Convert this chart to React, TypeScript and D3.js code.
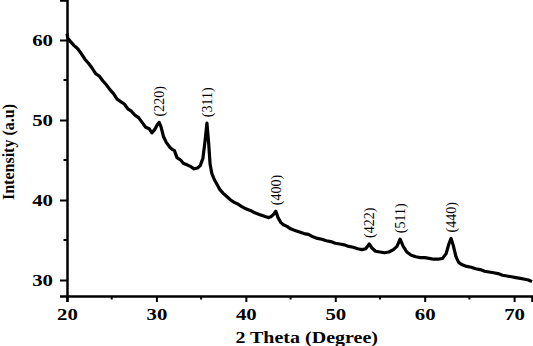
import * as d3 from "d3"
import { useEffect, useRef } from "react"

const twoTheta = [
  20.0, 20.1, 20.4, 20.8, 21.2, 21.6, 22.0, 22.4, 22.8, 23.2, 23.6, 24.0, 24.4, 24.8, 25.2, 25.6,
  26.0, 26.4, 26.8, 27.2, 27.6, 28.0, 28.4, 28.8, 29.2, 29.5, 29.8, 30.1, 30.3, 30.5, 30.8, 31.1,
  31.5, 31.8, 32.0, 32.3, 32.7, 33.0, 33.4, 33.8, 34.2, 34.6, 34.9, 35.2, 35.45, 35.65, 35.85, 36.0,
  36.2, 36.5, 36.8, 37.1, 37.5, 37.9, 38.3, 38.7, 39.1, 39.5, 40.0, 40.5, 41.0, 41.5, 42.0, 42.5,
  42.8, 43.1, 43.35, 43.6, 43.9, 44.2, 44.6, 45.0, 45.5, 46.0, 46.5, 47.0, 47.5, 48.0, 48.5, 49.0,
  49.5, 50.0, 50.5, 51.0, 51.5, 52.0, 52.5, 53.0, 53.4, 53.8, 54.1, 54.5, 55.0, 55.5, 56.0, 56.5,
  56.9, 57.25, 57.6, 58.0, 58.5, 59.0, 59.5, 60.0, 60.5, 61.0, 61.5, 62.0, 62.4, 62.7, 62.95, 63.2,
  63.5, 63.8, 64.2, 64.7, 65.2, 65.7, 66.2, 66.7, 67.2, 67.7, 68.2, 68.7, 69.2, 69.7, 70.2, 70.7,
  71.2, 71.6, 72.0,
]

const intensity = [
  60.8, 60.2, 59.8, 59.3, 58.9, 58.3, 57.6, 57.1, 56.5, 55.8, 55.5, 54.9, 54.4, 53.8, 53.3, 52.6,
  52.3, 52.0, 51.4, 51.1, 50.6, 50.3, 49.7, 49.1, 48.9, 48.4, 48.8, 49.4, 49.7, 49.2, 47.9, 47.2,
  46.6, 46.3, 46.2, 45.3, 45.0, 44.6, 44.4, 44.2, 43.9, 44.0, 44.3, 45.2, 47.5, 49.6, 47.0, 44.5,
  43.3, 42.5, 41.9, 41.3, 40.8, 40.4, 40.0, 39.7, 39.5, 39.2, 38.9, 38.7, 38.4, 38.2, 38.0, 37.8,
  37.9, 38.2, 38.6, 37.8, 37.2, 36.9, 36.7, 36.4, 36.2, 36.0, 35.8, 35.7, 35.4, 35.2, 35.1, 34.9,
  34.8, 34.6, 34.5, 34.4, 34.2, 34.1, 33.9, 33.8, 33.9, 34.5, 34.0, 33.6, 33.5, 33.4, 33.5, 33.8,
  34.2, 35.1, 34.2, 33.5, 33.1, 32.9, 32.8, 32.8, 32.7, 32.6, 32.6, 32.7, 33.3, 34.5, 35.2, 34.3,
  32.9, 32.2, 31.9, 31.7, 31.6, 31.4, 31.3, 31.1, 31.0, 30.9, 30.8, 30.6, 30.5, 30.4, 30.3, 30.2,
  30.1, 30.0, 29.8,
]

const peakLabels = ["(220)", "(311)", "(400)", "(422)", "(511)", "(440)"]
const peakTheta = [30.3, 35.65, 43.35, 53.8, 57.25, 62.95]
const peakIntensity = [49.7, 49.6, 38.6, 34.5, 35.1, 35.2]

const xTicks = [20, 30, 40, 50, 60, 70]
const yTicks = [30, 40, 50, 60]

const width = 533
const height = 346
const margin = { top: 0, right: 1, bottom: 50, left: 67 }
const font = "'Liberation Serif', 'Times New Roman', serif"
const stretch = 1.3

const App = () => {
  const ref = useRef<SVGSVGElement>(null)

  useEffect(() => {
    const innerWidth = width - margin.left - margin.right
    const innerHeight = height - margin.top - margin.bottom

    const svg = d3.select(ref.current)
    svg.selectAll("*").remove()

    const g = svg
      .append("g")
      .attr("transform", `translate(${margin.left},${margin.top})`)

    const x = d3.scaleLinear().domain([20, 72]).range([0, innerWidth])
    const y = d3.scaleLinear().domain([28, 65]).range([innerHeight, 0])

    // minor ticks
    const xMinor = d3.range(25, 72, 10)
    const yMinor = d3.range(35, 65, 10)

    const xAxis = g
      .append("g")
      .attr("transform", `translate(0,${innerHeight})`)
      .call(d3.axisBottom(x).tickValues(xTicks).tickSize(6).tickPadding(7).tickFormat(d3.format("d")))
    xAxis.select(".domain").attr("stroke-width", 2.5)
    xAxis.selectAll(".tick line").attr("stroke-width", 2)
    xAxis
      .selectAll("text")
      .attr("transform", `scale(${stretch},1)`)
      .style("font-family", font)
      .style("font-size", "16px")
      .style("font-weight", "bold")
    g.append("g")
      .selectAll("line")
      .data(xMinor)
      .enter()
      .append("line")
      .attr("x1", (d) => x(d))
      .attr("x2", (d) => x(d))
      .attr("y1", innerHeight)
      .attr("y2", innerHeight + 3.5)
      .attr("stroke", "#000")
      .attr("stroke-width", 2)

    const yAxis = g
      .append("g")
      .call(d3.axisLeft(y).tickValues(yTicks).tickSize(7).tickFormat(d3.format("d")))
    yAxis.select(".domain").attr("stroke-width", 2.5)
    yAxis.selectAll(".tick line").attr("stroke-width", 2)
    yAxis
      .selectAll("text")
      .attr("x", -14 / stretch)
      .attr("transform", `scale(${stretch},1)`)
      .style("font-family", font)
      .style("font-size", "16px")
      .style("font-weight", "bold")
    g.append("g")
      .selectAll("line")
      .data(yMinor)
      .enter()
      .append("line")
      .attr("x1", 0)
      .attr("x2", -3.5)
      .attr("y1", (d) => y(d))
      .attr("y2", (d) => y(d))
      .attr("stroke", "#000")
      .attr("stroke-width", 2)

    const points: [number, number][] = twoTheta.map((t, i) => [t, intensity[i]])
    const line = d3
      .line<[number, number]>()
      .x((d) => x(d[0]))
      .y((d) => y(d[1]))

    g.append("path")
      .datum(points)
      .attr("fill", "none")
      .attr("stroke", "#000")
      .attr("stroke-width", 3.2)
      .attr("stroke-linejoin", "round")
      .attr("d", line)

    g.append("g")
      .selectAll("text")
      .data(peakLabels)
      .enter()
      .append("text")
      .attr(
        "transform",
        (d, i) => `translate(${x(peakTheta[i]) + 5},${y(peakIntensity[i]) - 6}) rotate(-90)`
      )
      .attr("font-family", font)
      .attr("font-size", 14)
      .text((d) => d)

    svg
      .append("text")
      .attr("transform", `translate(${margin.left + x(46.8)},343) scale(1.25,1)`)
      .attr("text-anchor", "middle")
      .attr("font-family", font)
      .attr("font-size", 16)
      .attr("font-weight", "bold")
      .text("2 Theta (Degree)")

    svg
      .append("text")
      .attr("transform", `translate(14,${152}) rotate(-90)`)
      .attr("text-anchor", "middle")
      .attr("font-family", font)
      .attr("font-size", 16)
      .attr("font-weight", "bold")
      .text("Intensity (a.u)")
  }, [])

  return (
    <svg
      ref={ref}
      width={width}
      height={height}
      style={{ position: "absolute", left: 0, top: 0, background: "#fff" }}
    ></svg>
  )
}

export default App
